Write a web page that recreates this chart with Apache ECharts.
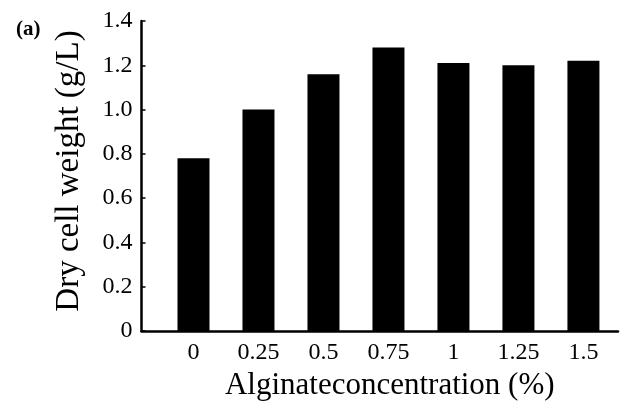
<!DOCTYPE html>
<html><head><meta charset="utf-8">
<script src="https://cdn.jsdelivr.net/npm/echarts@6/dist/echarts.min.js"></script>
<style>html,body{margin:0;padding:0;background:#fff}#c{width:622px;height:410px}</style>
</head><body><div id="c"></div>
<script>
var categories = [0, 0.25, 0.5, 0.75, 1, 1.25, 1.5];
var dryCellWeight = [0.78, 1.0, 1.16, 1.28, 1.21, 1.20, 1.22];
var yTicks = [0, 0.2, 0.4, 0.6, 0.8, 1.0, 1.2, 1.4];
var xTitle = 'Alginateconcentration (%)';
var yTitle = 'Dry cell weight (g/L)';
var panelLabel = '(a)';

var font = '"Liberation Serif","DejaVu Serif",serif';
var chart = echarts.init(document.getElementById('c'));
chart.setOption({
  animation: false,
  backgroundColor: '#fff',
  grid: {left: 141.5, right: 4, top: 21, bottom: 79, containLabel: false},
  title: {text: panelLabel, left: 11, top: 14, textStyle: {fontFamily: font, fontWeight: 'bold', fontSize: 21, color: '#000'}},
  xAxis: {
    type: 'value', min: -0.2, max: 1.633,
    splitLine: {show: false},
    axisLine: {show: true, onZero: false, lineStyle: {color: '#000', width: 2.5}},
    axisTick: {show: false},
    axisLabel: {customValues: categories, color: '#000', fontFamily: font, fontSize: 24, margin: 10,
      formatter: function (v) { return String(v); }},
    name: xTitle, nameLocation: 'middle', nameGap: 38,
    nameTextStyle: {fontFamily: font, fontSize: 31, color: '#000', padding: [0, 0, 0, 20]}
  },
  yAxis: {
    type: 'value', min: 0, max: 1.4, interval: 0.2,
    splitLine: {show: false},
    axisLine: {show: true, onZero: false, lineStyle: {color: '#000', width: 2.5}},
    axisTick: {show: true, inside: true, length: 4, lineStyle: {color: '#000', width: 1.5}},
    axisLabel: {color: '#000', fontFamily: font, fontSize: 24, margin: 9,
      formatter: function (v) { return v === 0 ? '0' : v.toFixed(1); }},
    name: yTitle, nameLocation: 'middle', nameGap: 56, nameRotate: 90,
    nameTextStyle: {fontFamily: font, fontSize: 33, color: '#000', padding: [0, 0, 0, 10]}
  },
  series: [{
    type: 'bar',
    barWidth: 32,
    itemStyle: {color: '#000'},
    data: categories.map(function (c, i) { return [c, dryCellWeight[i]]; })
  }]
});
</script></body></html>
